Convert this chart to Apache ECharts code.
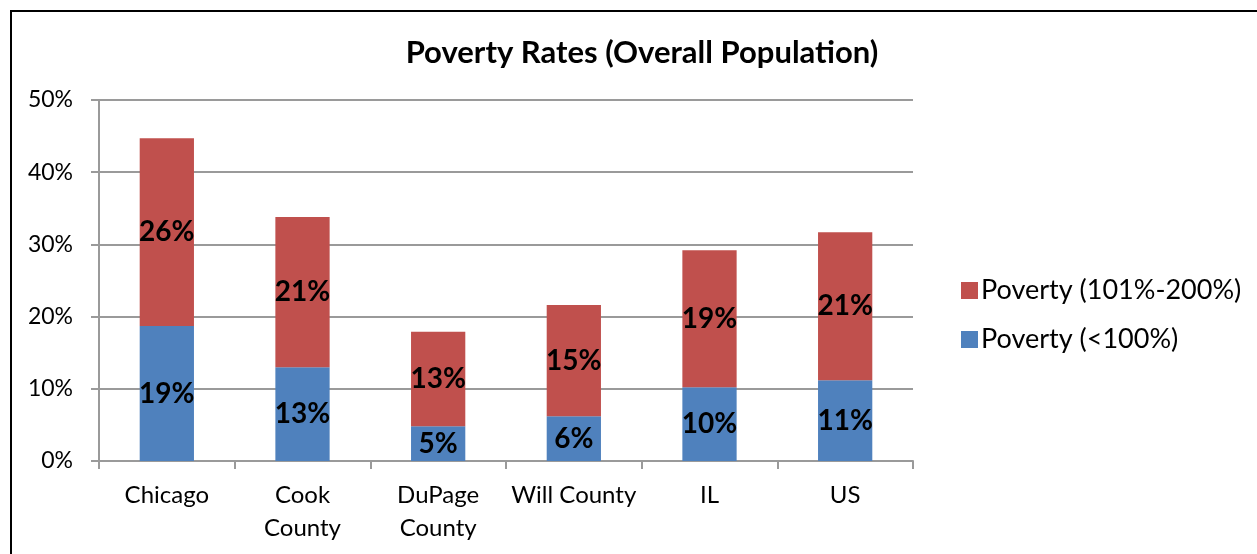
<!DOCTYPE html>
<html>
<head>
<meta charset="utf-8">
<script src="https://cdn.jsdelivr.net/npm/echarts@6/dist/echarts.min.js"></script>
<style>
  html, body { margin: 0; padding: 0; background: #fff; }
  #chart { width: 1257px; height: 554px; }
</style>
</head>
<body>
<div id="chart"></div>
<script>
const categories = ['Chicago', 'Cook\nCounty', 'DuPage\nCounty', 'Will County', 'IL', 'US'];
const belowPoverty = [18.7, 13.0, 4.8, 6.2, 10.2, 11.2];
const nearPoverty = [26.0, 20.8, 13.1, 15.4, 19.0, 20.5];
const yTicks = [0, 10, 20, 30, 40, 50];

const FONT = 'Lato, "Open Sans", sans-serif';
const gridColor = '#9a9a9a';

const chart = echarts.init(document.getElementById('chart'));

const labelStyle = {
  show: true,
  position: 'inside',
  color: '#000',
  fontFamily: FONT,
  fontWeight: 'bold',
  fontSize: 28,
  formatter: p => Math.round(p.value) + '%'
};

chart.setOption({
  animation: false,
  title: {
    text: 'Poverty Rates (Overall Population)',
    left: 637,
    textAlign: 'center',
    top: 32,
    textStyle: { fontFamily: FONT, fontWeight: 'bold', fontSize: 31, color: '#000' }
  },
  legend: {
    orient: 'vertical',
    left: 956,
    top: 272,
    itemWidth: 17,
    itemHeight: 17,
    itemGap: 22,
    icon: 'rect',
    data: ['Poverty (101%-200%)', 'Poverty (<100%)'],
    textStyle: { fontFamily: FONT, fontSize: 27, color: '#000', padding: [0, 0, 0, -2] }
  },
  grid: { left: 99, right: 344, top: 100, bottom: 93 },
  xAxis: {
    type: 'category',
    data: categories,
    axisLine: { lineStyle: { color: gridColor, width: 2 } },
    axisTick: { show: true, length: 8, alignWithLabel: false, lineStyle: { color: gridColor, width: 2 } },
    axisLabel: { interval: 0, fontFamily: FONT, fontSize: 24, color: '#000', lineHeight: 33, margin: 18 }
  },
  yAxis: {
    type: 'value',
    min: yTicks[0],
    max: yTicks[yTicks.length - 1],
    interval: 10,
    axisLine: { show: true, lineStyle: { color: gridColor, width: 2 } },
    axisTick: { show: true, length: 8, lineStyle: { color: gridColor, width: 2 } },
    splitLine: { lineStyle: { color: gridColor, width: 2 } },
    axisLabel: { fontFamily: FONT, fontSize: 23, color: '#000', margin: 26, formatter: '{value}%' }
  },
  series: [
    {
      name: 'Poverty (<100%)',
      type: 'bar',
      stack: 'total',
      barWidth: '40%',
      data: belowPoverty,
      itemStyle: { color: '#4F81BD' },
      label: labelStyle
    },
    {
      name: 'Poverty (101%-200%)',
      type: 'bar',
      stack: 'total',
      barWidth: '40%',
      data: nearPoverty,
      itemStyle: { color: '#C0504D' },
      label: labelStyle
    }
  ],
  graphic: [
    {
      type: 'polyline',
      shape: { points: [[11, 554], [11, 11], [1257, 11]] },
      style: { stroke: '#000', lineWidth: 2, fill: null }
    }
  ]
});
</script>
</body>
</html>
